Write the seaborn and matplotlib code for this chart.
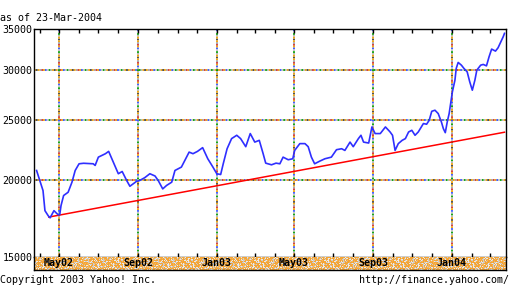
import numpy as np
import pandas as pd
import matplotlib
matplotlib.use("Agg")
import matplotlib.pyplot as plt
import matplotlib.dates as mdates
from matplotlib.ticker import FixedLocator, NullLocator
import seaborn as sns

# ---------------- data ----------------
dates = [
    '2002-03-27', '2002-04-01', '2002-04-06', '2002-04-09', '2002-04-14', '2002-04-17',
    '2002-04-23', '2002-04-27', '2002-04-30', '2002-05-02', '2002-05-04', '2002-05-08',
    '2002-05-15', '2002-05-21', '2002-05-26', '2002-06-01', '2002-06-08', '2002-06-15',
    '2002-06-23', '2002-06-26', '2002-07-01', '2002-07-12', '2002-07-17', '2002-07-22',
    '2002-08-01', '2002-08-07', '2002-08-14', '2002-08-19', '2002-08-29', '2002-09-03',
    '2002-09-11', '2002-09-19', '2002-09-27', '2002-10-02', '2002-10-09', '2002-10-15',
    '2002-10-23', '2002-10-28', '2002-11-07', '2002-11-19', '2002-11-25', '2002-12-02',
    '2002-12-10', '2002-12-18', '2002-12-26', '2003-01-01', '2003-01-07', '2003-01-11',
    '2003-01-17', '2003-01-24', '2003-02-01', '2003-02-07', '2003-02-15', '2003-02-22',
    '2003-03-01', '2003-03-08', '2003-03-14', '2003-03-18', '2003-03-27', '2003-04-03',
    '2003-04-09', '2003-04-14', '2003-04-22', '2003-04-29', '2003-05-02', '2003-05-10',
    '2003-05-18', '2003-05-23', '2003-05-28', '2003-06-02', '2003-06-10', '2003-06-18',
    '2003-06-28', '2003-07-06', '2003-07-14', '2003-07-19', '2003-07-27', '2003-08-01',
    '2003-08-09', '2003-08-13', '2003-08-17', '2003-08-25', '2003-08-30', '2003-09-04',
    '2003-09-12', '2003-09-20', '2003-09-27', '2003-10-01', '2003-10-05', '2003-10-10',
    '2003-10-16', '2003-10-21', '2003-10-26', '2003-10-31', '2003-11-05', '2003-11-10',
    '2003-11-18', '2003-11-23', '2003-11-27', '2003-12-01', '2003-12-06', '2003-12-11',
    '2003-12-16', '2003-12-19', '2003-12-22', '2003-12-25', '2003-12-28', '2003-12-30',
    '2004-01-02', '2004-01-06', '2004-01-08', '2004-01-11', '2004-01-16', '2004-01-20',
    '2004-01-25', '2004-01-29', '2004-02-02', '2004-02-06', '2004-02-09', '2004-02-15',
    '2004-02-19', '2004-02-24', '2004-02-28', '2004-03-03', '2004-03-09', '2004-03-13',
    '2004-03-17', '2004-03-21', '2004-03-23',
]
values = [
    20690, 19930, 19200, 17820, 17490, 17350,
    17820, 17650, 17540, 17560, 18160, 18850,
    19080, 19810, 20690, 21210, 21250, 21230,
    21210, 21080, 21740, 22020, 22210, 21610,
    20440, 20610, 19930, 19510, 19860, 19930,
    20140, 20440, 20270, 19930, 19320, 19570,
    19810, 20690, 20950, 22150, 22020, 22210,
    22520, 21610, 20950, 20440, 20380, 21210,
    22430, 23290, 23580, 23290, 22600, 23730,
    22990, 23140, 22020, 21260, 21130, 21260,
    21210, 21740, 21530, 21610, 22290, 22860,
    22860, 22600, 21740, 21210, 21420, 21610,
    21740, 22350, 22430, 22290, 22990, 22600,
    23290, 23580, 22990, 22910, 24320, 23730,
    23730, 24320, 23890, 23580, 22290, 22860,
    23140, 23290, 23870, 24020, 23580, 23870,
    24630, 24570, 24930, 25780, 25880, 25560,
    24770, 24170, 23810, 24770, 25560, 26370,
    27700, 28940, 30230, 30910, 30600, 30230,
    29850, 28760, 27880, 28940, 30040, 30600,
    30680, 30520, 31560, 32480, 32240, 32640,
    33310, 34010, 34440,
]
trend_dates = ['2002-04-15', '2004-03-23']
trend_values = [17400, 23850]

y_ticks = [15000, 20000, 25000, 30000, 35000]
y_grid = [20000, 25000, 30000]
x_label_dates = ['2002-05-01', '2002-09-01', '2003-01-01', '2003-05-01', '2003-09-01', '2004-01-01']
x_labels = ['May02', 'Sep02', 'Jan03', 'May03', 'Sep03', 'Jan04']

df = pd.DataFrame({'date': pd.to_datetime(dates), 'value': values})
tr = pd.DataFrame({'date': pd.to_datetime(trend_dates), 'value': trend_values})

# ---------------- figure ----------------
W, H = 511, 287
fig = plt.figure(figsize=(W / 100, H / 100), dpi=100)
fig.patch.set_facecolor('white')
mono = 'DejaVu Sans Mono'
fs = 7.2

L, R, T, B = 34, 506, 29, 257
ax = fig.add_axes([L / W, 1 - B / H, (R - L) / W, (B - T) / H])
ax.set_facecolor('white')

xmin = pd.Timestamp('2002-03-23')
xmax = pd.Timestamp('2004-03-25 08:00')

# multicoloured dotted grid lines
grid_cols = ['#f0a000', '#b0b0b0', '#00a000', '#c0c0c0', '#3050ff',
             '#f0a000', '#d03030', '#a0a0a0', '#f0a000', '#404040']
n = len(grid_cols)
for v in y_grid:
    for i, c in enumerate(grid_cols):
        ax.axhline(v, color=c, lw=1.3, linestyle=(i, (1, n - 1)), zorder=1)
for d in x_label_dates:
    for i, c in enumerate(grid_cols[::-1]):
        ax.axvline(pd.Timestamp(d), color=c, lw=1.3, linestyle=(i, (1, n - 1)), zorder=1)

sns.lineplot(data=tr, x='date', y='value', ax=ax, color='#ff0000', lw=1.1, zorder=3)
sns.lineplot(data=df, x='date', y='value', ax=ax, color='#2f2fff', lw=1.2, zorder=4)

ax.set_yscale('log')
ax.set_ylim(15000, 35000)
ax.set_xlim(xmin, xmax)
ax.yaxis.set_major_locator(FixedLocator(y_ticks))
ax.yaxis.set_minor_locator(NullLocator())
ax.set_yticklabels([str(v) for v in y_ticks], fontfamily=mono, fontsize=fs)
ax.tick_params(axis='y', length=0, pad=1)
ax.xaxis.set_major_locator(mdates.MonthLocator())
ax.xaxis.set_minor_locator(NullLocator())
ax.tick_params(axis='x', which='major', direction='in', length=3, width=1,
               top=True, bottom=True, labelbottom=False)
ax.set_xlabel('')
ax.set_ylabel('')
for s in ax.spines.values():
    s.set_color('black')
    s.set_linewidth(1)
if ax.get_legend():
    ax.get_legend().remove()

# bottom textured band with date labels
BB = 270
bx = fig.add_axes([L / W, 1 - BB / H, (R - L) / W, (BB - B) / H])
ii, jj = np.mgrid[0:13, 0:472]
code = (ii * 7 + jj * 3 + (ii * jj) % 5 + (jj * jj) % 7) % 6
palette = np.array([[0.96, 0.64, 0.20], [0.96, 0.66, 0.25], [0.97, 0.72, 0.35],
                    [0.80, 0.80, 0.80], [0.96, 0.64, 0.20], [0.92, 0.92, 0.92]])
tex = palette[code]
bx.imshow(tex, extent=[mdates.date2num(xmin), mdates.date2num(xmax), 0, 1],
          aspect='auto', interpolation='nearest')
bx.set_xlim(mdates.date2num(xmin), mdates.date2num(xmax))
bx.set_ylim(0, 1)
bx.set_xticks([])
bx.set_yticks([])
for s in bx.spines.values():
    s.set_color('black')
    s.set_linewidth(1)
bx.spines['top'].set_visible(False)
for d, lab in zip(x_label_dates, x_labels):
    bx.text(mdates.date2num(pd.Timestamp(d)), 0.5, lab, ha='center', va='center',
            fontfamily=mono, fontsize=fs, fontweight='bold', color='black')

fig.text(0, 1 - 18 / H, 'as of 23-Mar-2004', ha='left', va='center',
         fontfamily=mono, fontsize=fs)
fig.text(0, 1 - 280 / H, 'Copyright 2003 Yahoo! Inc.', ha='left', va='center',
         fontfamily=mono, fontsize=fs)
fig.text(509 / W, 1 - 280 / H, 'http://finance.yahoo.com/', ha='right', va='center',
         fontfamily=mono, fontsize=fs)

fig.savefig('out.png', dpi=100)
